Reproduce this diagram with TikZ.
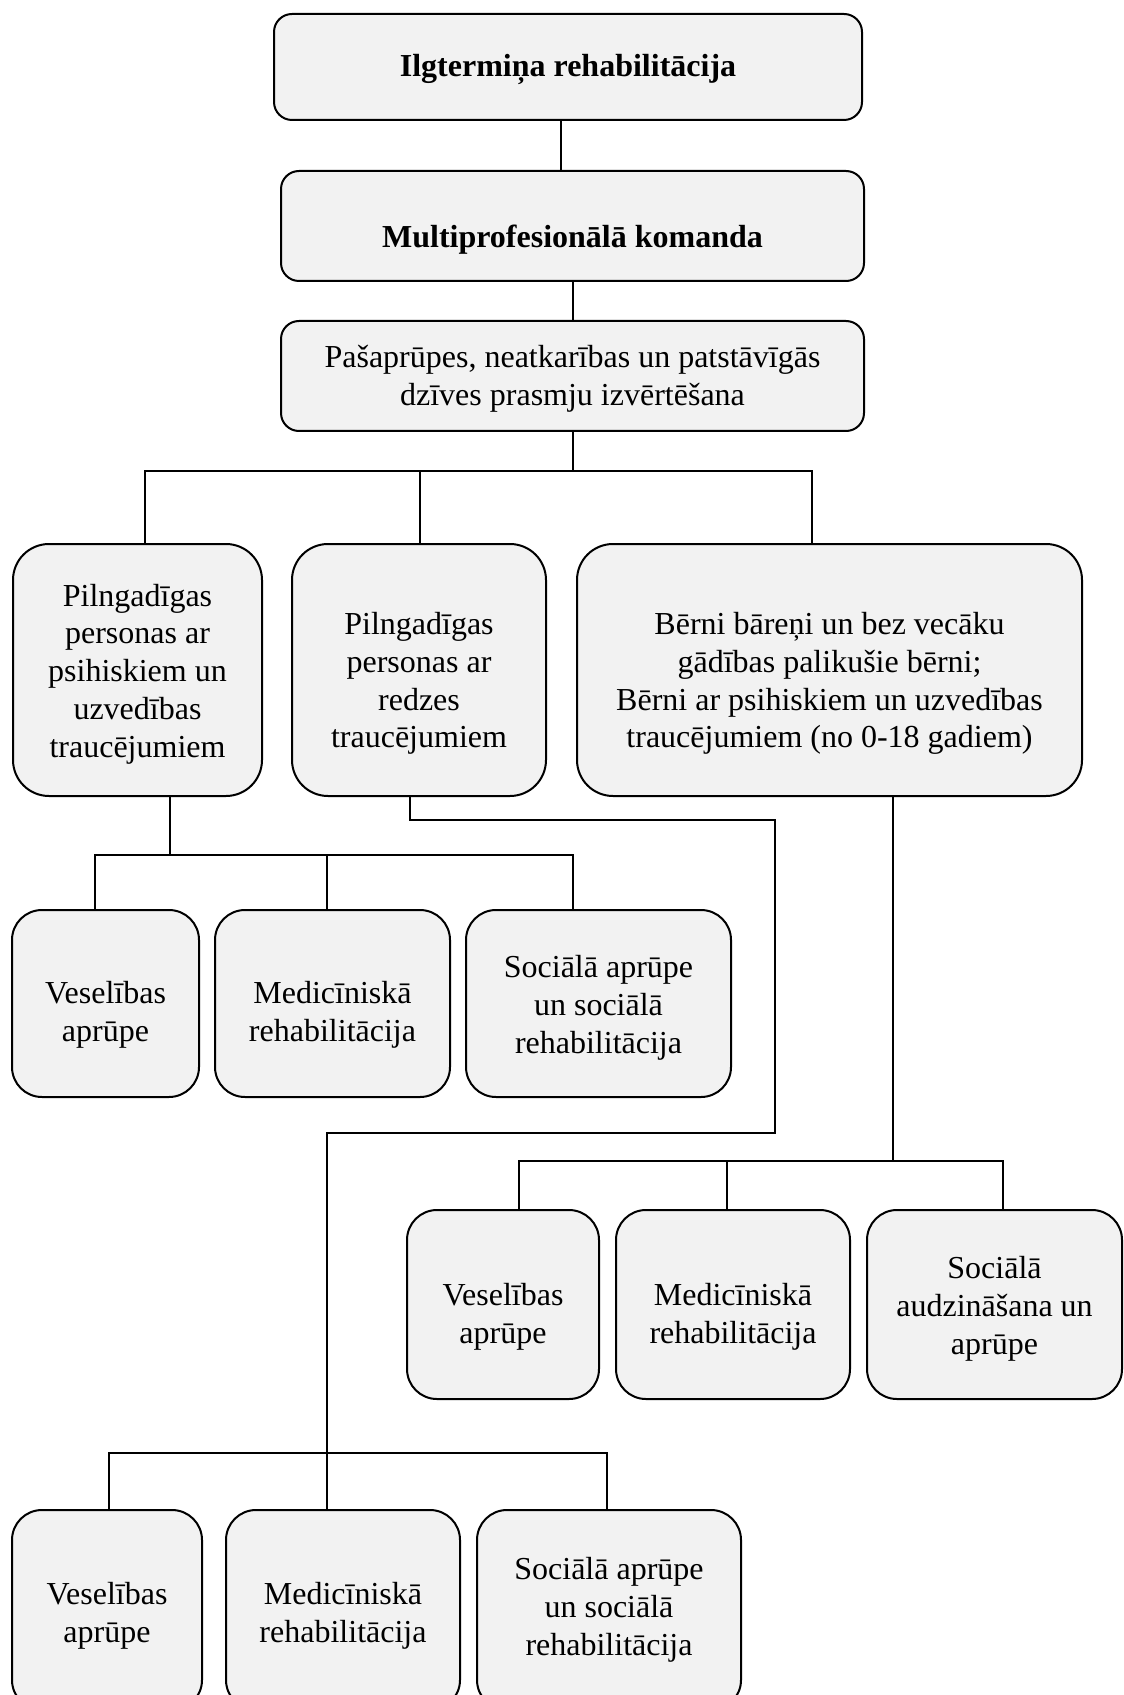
\documentclass[tikz,border=0pt]{standalone}
\usepackage{fontspec}
\setmainfont{Liberation Serif}
\definecolor{boxfill}{HTML}{F2F2F2}
\begin{document}
\begin{tikzpicture}[x=0.5pt,y=-0.5pt,
  box/.style={draw=black, fill=boxfill, line width=1pt, rectangle, inner sep=0pt},
  sz/.style n args={3}{minimum width=#1*0.5pt, minimum height=#2*0.5pt, rounded corners=#3*0.5pt},
  txt/.style={align=center, inner sep=0pt, font=\fontsize{16}{18.9}\selectfont},
  conn/.style={draw=black, line width=0.8pt, line join=miter}]
\clip (0,0) rectangle (1123,1695);
\fill[white] (0,0) rectangle (1123,1695);
% top column
\node[box, sz={588}{106}{18}] (T1) at (568,67) {};
\node[txt] (T1t) at (568,69) {\bfseries Ilgtermiņa rehabilitācija};
\node[box, sz={583}{110}{18}] (T2) at (572.5,226) {};
\node[txt] (T2t) at (572.5,240) {\bfseries Multiprofesionālā komanda};
\node[box, sz={583}{110}{18}] (T3) at (572.5,376) {};
\node[txt] (T3t) at (572.5,379) {Pašaprūpes, neatkarības un patstāvīgās\\dzīves prasmju izvērtēšana};
% second row
\node[box, sz={249}{252}{36}] (A) at (137.5,670) {};
\node[txt] (At) at (137.5,674) {Pilngadīgas\\personas ar\\psihiskiem un\\uzvedības\\traucējumiem};
\node[box, sz={254}{252}{36}] (B) at (419,670) {};
\node[txt] (Bt) at (419,683.5) {Pilngadīgas\\personas ar\\redzes\\traucējumiem};
\node[box, sz={505}{252}{36}] (C) at (829.5,670) {};
\node[txt] (Ct) at (829.5,683.5) {Bērni bāreņi un bez vecāku\\gādības palikušie bērni;\\Bērni ar psihiskiem un uzvedības\\traucējumiem (no 0-18 gadiem)};
% children of A
\node[box, sz={187}{187}{30}] (A1) at (105.5,1003.5) {};
\node[txt] (A1t) at (105.5,1014.5) {Veselības\\aprūpe};
\node[box, sz={235}{187}{30}] (A2) at (332.5,1003.5) {};
\node[txt] (A2t) at (332.5,1014.5) {Medicīniskā\\rehabilitācija};
\node[box, sz={265}{187}{30}] (A3) at (598.5,1003.5) {};
\node[txt] (A3t) at (598.5,1008) {Sociālā aprūpe\\un sociālā\\rehabilitācija};
% children of C
\node[box, sz={192}{189}{30}] (C1) at (503,1304.5) {};
\node[txt] (C1t) at (503,1316.5) {Veselības\\aprūpe};
\node[box, sz={234}{189}{30}] (C2) at (733,1304.5) {};
\node[txt] (C2t) at (733,1316.5) {Medicīniskā\\rehabilitācija};
\node[box, sz={255}{189}{30}] (C3) at (994.5,1304.5) {};
\node[txt] (C3t) at (994.5,1308.5) {Sociālā\\audzināšana un\\aprūpe};
% children of B
\node[box, sz={190}{200}{30}] (B1) at (107,1610) {};
\node[txt] (B1t) at (107,1615.5) {Veselības\\aprūpe};
\node[box, sz={234}{200}{30}] (B2) at (343,1610) {};
\node[txt] (B2t) at (343,1615.5) {Medicīniskā\\rehabilitācija};
\node[box, sz={264}{200}{30}] (B3) at (609,1610) {};
\node[txt] (B3t) at (609,1610) {Sociālā aprūpe\\un sociālā\\rehabilitācija};
% x guides
\coordinate (c561) at (561,0);
\coordinate (c573) at (573,0);
\coordinate (c145) at (145,0);
\coordinate (c420) at (420,0);
\coordinate (c812) at (812,0);
\coordinate (c170) at (170,0);
\coordinate (c95) at (95,0);
\coordinate (c327) at (327,0);
\coordinate (c410) at (410,0);
\coordinate (c893) at (893,0);
\coordinate (c519) at (519,0);
\coordinate (c727) at (727,0);
\coordinate (c1003) at (1003,0);
\coordinate (c109) at (109,0);
\coordinate (c607) at (607,0);
% junctions
\coordinate (h1) at (573,471);
\coordinate (h2) at (170,855);
\coordinate (k1) at (775,820);
\coordinate (k2) at (327,1133);
\coordinate (h3) at (327,1453);
\coordinate (h4) at (893,1161);
% connectors
\draw[conn] (T1.south -| c561) -- (T2.north -| c561);
\draw[conn] (T2.south -| c573) -- (T3.north -| c573);
\draw[conn] (T3.south -| c573) -- (h1);
\draw[conn] (h1) -| (A.north -| c145);
\draw[conn] (h1) -| (B.north -| c420);
\draw[conn] (h1) -| (C.north -| c812);
\draw[conn] (A.south -| c170) -- (h2);
\draw[conn] (h2) -| (A1.north -| c95);
\draw[conn] (h2) -| (A2.north -| c327);
\draw[conn] (h2) -| (A3.north -| c573);
\draw[conn] (B.south -| c410) |- (k1) |- (k2) -- (B2.north -| c327);
\draw[conn] (h3) -| (B1.north -| c109);
\draw[conn] (h3) -| (B3.north -| c607);
\draw[conn] (C.south -| c893) -- (h4);
\draw[conn] (h4) -| (C1.north -| c519);
\draw[conn] (h4) -| (C2.north -| c727);
\draw[conn] (h4) -| (C3.north -| c1003);
\end{tikzpicture}
\end{document}
